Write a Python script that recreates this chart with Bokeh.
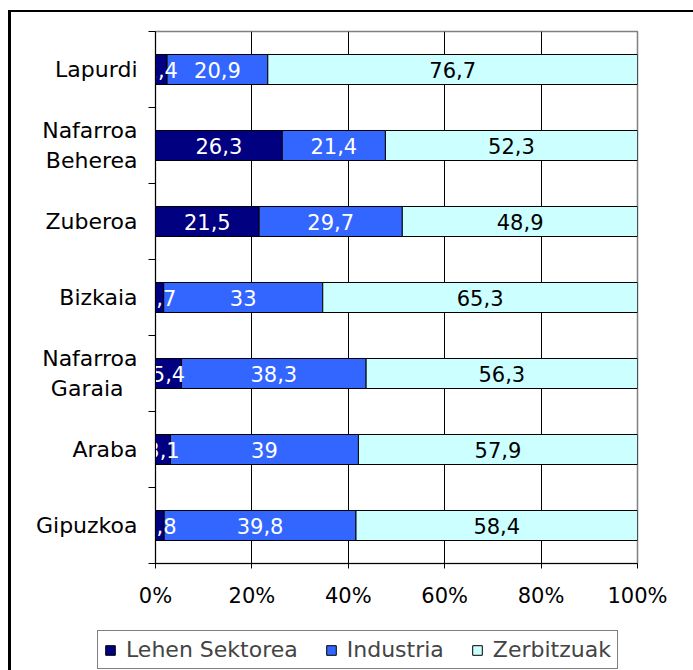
import numpy as np
from bokeh.plotting import figure
from bokeh.layouts import column
from bokeh.models import ColumnDataSource, FixedTicker, PrintfTickFormatter, Legend, LegendItem, Range1d
from bokeh.embed import file_html
from bokeh.resources import INLINE
from bokeh.core.properties import value

# ---- data ----
regions = ["Lapurdi", "Nafarroa\nBeherea", "Zuberoa", "Bizkaia", "Nafarroa\nGaraia\u00a0\u00a0", "Araba", "Gipuzkoa"]
lehen = [2.4, 26.3, 21.5, 1.7, 5.4, 3.1, 1.8]
industria = [20.9, 21.4, 29.7, 33, 38.3, 39, 39.8]
zerbitzuak = [76.7, 52.3, 48.9, 65.3, 56.3, 57.9, 58.4]
series_names = ["Lehen Sektorea", "Industria", "Zerbitzuak"]
x_ticks = [0, 20, 40, 60, 80, 100]

colors = ["#000080", "#3366FF", "#CCFFFF"]
label_colors = ["white", "white", "black"]
FONT = "DejaVu Sans"
FS = "21px"
FS_L = "22px"

n = len(regions)
ypos = [n - 0.5 - i for i in range(n)]
cols = ["lehen", "industria", "zerbitzuak"]

src = ColumnDataSource(dict(y=ypos, lehen=lehen, industria=industria, zerbitzuak=zerbitzuak))

W = 682
p = figure(width=W, height=610, output_backend="svg", toolbar_location=None,
           x_range=Range1d(0, 100), y_range=Range1d(0, n),
           min_border_left=144, min_border_right=56, min_border_top=19, min_border_bottom=59)
p.frame_align = False

rs = p.hbar_stack(cols, y="y", height=0.395, color=colors,
                  line_color="black", line_width=1, source=src)

# data labels
lx, ly, lt, lc = [], [], [], []
series = [lehen, industria, zerbitzuak]
cum = np.zeros(n)
for k, vals in enumerate(series):
    v = np.array(vals, dtype=float)
    centers = cum + v / 2
    cum = cum + v
    for i in range(n):
        lx.append(centers[i])
        ly.append(ypos[i])
        lt.append(("%g" % vals[i]).replace(".", ","))
        lc.append(label_colors[k])
lsrc = ColumnDataSource(dict(x=lx, y=ly, t=lt, c=lc))
p.text(x="x", y="y", text="t", text_color="c", source=lsrc, text_align="center",
       text_baseline="middle", text_font=value(FONT), text_font_size=FS)

# axes
p.xaxis.ticker = FixedTicker(ticks=x_ticks)
p.xaxis.formatter = PrintfTickFormatter(format="%d%%")
p.xaxis.major_tick_in = 0
p.xaxis.major_tick_out = 5
p.xaxis.minor_tick_line_color = None
p.xaxis.axis_line_color = "black"
p.xaxis.major_label_text_font = FONT
p.xaxis.major_label_text_font_size = FS
p.xaxis.major_label_text_color = "black"
p.xaxis.major_label_standoff = 15

p.yaxis.ticker = FixedTicker(ticks=ypos, minor_ticks=list(range(n + 1)))
p.yaxis.major_label_overrides = {float(y): r for y, r in zip(ypos, regions)}
p.yaxis.major_tick_in = 0
p.yaxis.major_tick_out = 0
p.yaxis.minor_tick_in = 0
p.yaxis.minor_tick_out = 7
p.yaxis.minor_tick_line_color = "black"
p.yaxis.axis_line_color = "black"
p.yaxis.major_label_text_font = FONT
p.yaxis.major_label_text_font_size = FS_L
p.yaxis.major_label_text_color = "black"
p.yaxis.major_label_standoff = 11

p.xgrid.ticker = FixedTicker(ticks=x_ticks[1:-1])
p.xgrid.grid_line_color = "black"
p.xgrid.grid_line_width = 1
p.ygrid.grid_line_color = None
p.outline_line_color = "#808080"
p.outline_line_width = 1.5

# legend strip below the chart
q = figure(width=W, height=48, output_backend="svg", toolbar_location=None,
           x_range=Range1d(-2, -1), y_range=Range1d(-2, -1),
           x_axis_location=None, y_axis_location=None, min_border=0)
q.frame_align = False
q.grid.visible = False
q.outline_line_color = None
qr = q.hbar_stack(cols, y="y", height=0.395, color=colors,
                  line_color="black", line_width=1, source=src)

legend = Legend(items=[LegendItem(label=name, renderers=[r]) for name, r in zip(series_names, qr)],
                orientation="horizontal", location=(86, 1))
legend.label_text_font = FONT
legend.label_text_font_size = FS_L
legend.glyph_width = 12
legend.glyph_height = 12
legend.label_standoff = 10
legend.spacing = 27
legend.padding = 6
legend.margin = 0
legend.border_line_color = "black"
legend.border_line_width = 1
legend.background_fill_color = "white"
legend.background_fill_alpha = 1
q.add_layout(legend, "center")

layout = column(p, q, spacing=0,
                styles={"margin-left": "8px", "margin-top": "10px",
                        "border-left": "3px solid black", "border-top": "2px solid black"})

open("out.html", "w").write(file_html(layout, INLINE))
